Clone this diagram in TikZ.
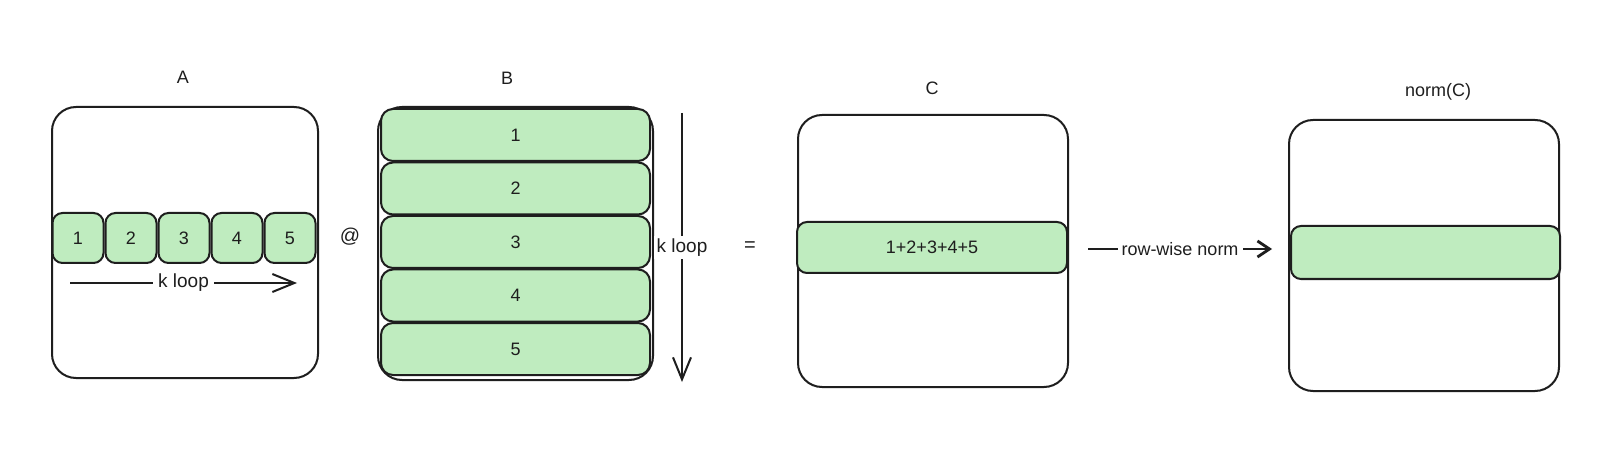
\documentclass[tikz,border=0pt]{standalone}
\usepackage{fontspec}
\setmainfont{Liberation Sans}
\usetikzlibrary{arrows.meta}
\definecolor{ink}{HTML}{1E1E1E}
\definecolor{cellgreen}{RGB}{191,236,191}
\begin{document}
\begin{tikzpicture}[x=0.5pt,y=-0.5pt,
  matbox/.style={draw=ink, line width=1pt, rounded corners=12pt, inner sep=0pt},
  cellbox/.style={draw=ink, line width=1pt, fill=cellgreen, rounded corners=5pt, inner sep=0pt, text=ink, font=\fontsize{9}{11}\selectfont},
  rowbox/.style={cellbox, rounded corners=6pt},
  lbl/.style={font=\fontsize{9}{11}\selectfont, text=ink},
  looplbl/.style={fill=white, inner sep=2.5pt, text=ink, font=\fontsize{9.5}{11}\selectfont},
  looparrow/.style={draw=ink, line width=1pt, -{Straight Barb[length=11pt,width=9pt]}},
  normarrow/.style={draw=ink, line width=1.4pt, -{Straight Barb[length=6pt,width=8pt]}}
]
\useasboundingbox (0,0) rectangle (1600,470);
\fill[white] (0,0) rectangle (1600,470);

% ---- A ----
\node[lbl] (Alab) at (183,77) {A};
\node[matbox, minimum width=133pt, minimum height=135.5pt] (Abox) at (185,242.5) {};
\foreach \i/\x in {1/78,2/131,3/184,4/237,5/290}
  \node[cellbox, minimum width=25.5pt, minimum height=25pt] (a\i) at (\x,238) {\i};
\coordinate (ka1) at (70,283);
\coordinate (ka2) at (297,283);
\draw[looparrow] (ka1) -- node[looplbl] (kaLab) {k loop} (ka2);

\node[lbl, font=\fontsize{10}{12}\selectfont] (at) at (350,237) {@};

% ---- B ----
\node[lbl] (Blab) at (507,78) {B};
\node[matbox, minimum width=137.5pt, minimum height=136.5pt] (Bbox) at (515.5,243.5) {};
\foreach \i/\y in {1/135,2/188.5,3/242,4/295.5,5/349}
  \node[rowbox, minimum width=134.5pt, minimum height=26pt] (b\i) at (515.5,\y) {\i};
\coordinate (kb1) at (682,113);
\coordinate (kb2) at (682,382);
\draw[looparrow] (kb1) -- node[looplbl, inner sep=1.5pt] (kbLab) {k loop} (kb2);

\node[lbl, font=\fontsize{10}{12}\selectfont] (eq) at (750,247) {=};

% ---- C ----
\node[lbl] (Clab) at (932,88) {C};
\node[matbox, minimum width=135pt, minimum height=136pt] (Cbox) at (933,251) {};
\node[rowbox, rounded corners=5pt, minimum width=135pt, minimum height=25.5pt] (crow) at (932,247.5) {1+2+3+4+5};

\coordinate (n1) at (1088,249);
\coordinate (n2) at (1272,249);
\draw[normarrow] (n1) -- node[looplbl, line width=0pt, inner sep=2pt, font=\fontsize{9}{11}\selectfont] (nLab) {row-wise norm} (n2);

% ---- norm(C) ----
\node[lbl] (Nlab) at (1438,92) {norm(C)};
\node[matbox, minimum width=135pt, minimum height=135.5pt] (Nbox) at (1424,255.5) {};
\node[rowbox, rounded corners=5pt, minimum width=134.5pt, minimum height=26.5pt] (nrow) at (1425.5,252.5) {};
\end{tikzpicture}
\end{document}
